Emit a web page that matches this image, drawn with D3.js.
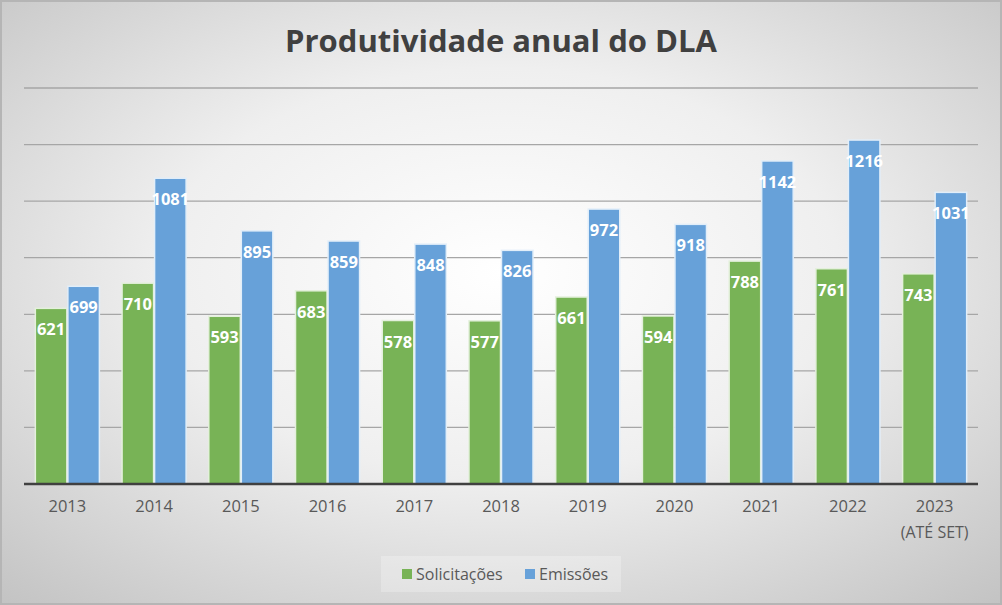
<!DOCTYPE html>
<html><head><meta charset="utf-8">
<script src="https://cdnjs.cloudflare.com/ajax/libs/d3/7.8.5/d3.min.js"></script>
<style>html,body{margin:0;padding:0;background:#fff;}svg{display:block;}</style>
</head><body>
<script>
const categories = ["2013","2014","2015","2016","2017","2018","2019","2020","2021","2022","2023"];
const catSub = ["","","","","","","","","","","(ATÉ SET)"];
const solicitacoes = [621,710,593,683,578,577,661,594,788,761,743];
const emissoes = [699,1081,895,859,848,826,972,918,1142,1216,1031];
const seriesNames = ["Solicitações","Emissões"];
const seriesColors = ["#78b356","#67a1d9"];
const seriesStroke = ["#e4f0dc","#e2eef9"];
const yTicks = [0,200,400,600,800,1000,1200,1400];

const W = 1002, H = 605;
const svg = d3.select("body").append("svg").attr("width", W).attr("height", H);
const defs = svg.append("defs");
const grad = defs.append("radialGradient").attr("id","bg").attr("cx","50%").attr("cy","45%").attr("r","75%");
grad.append("stop").attr("offset","0%").attr("stop-color","#ffffff");
grad.append("stop").attr("offset","45%").attr("stop-color","#efefef");
grad.append("stop").attr("offset","100%").attr("stop-color","#c2c2c2");
svg.append("rect").attr("x",0).attr("y",0).attr("width",W).attr("height",H).attr("fill","url(#bg)");
svg.append("rect").attr("x",1).attr("y",1).attr("width",W-2).attr("height",H-2).attr("fill","none").attr("stroke","#b5b5b5").attr("stroke-width",2);

const margin = {left:24, right:24, top:88, bottom:121};
const x0 = d3.scaleBand().domain(categories).range([margin.left, W-margin.right]).paddingInner(0.25).paddingOuter(0.125);
const x1 = d3.scaleBand().domain([0,1]).range([0, x0.bandwidth()]);
const y = d3.scaleLinear().domain([0,1400]).range([H-margin.bottom, margin.top]);

// gridlines
svg.append("g").selectAll("line").data(yTicks.slice(1)).join("line")
  .attr("x1", margin.left).attr("x2", W-margin.right)
  .attr("y1", d=>y(d)).attr("y2", d=>y(d))
  .attr("stroke","#a6a6a6").attr("stroke-width",1.3);

// title
svg.append("text").attr("x", 501).attr("y", 52).attr("text-anchor","middle")
  .attr("font-family","Open Sans, sans-serif").attr("font-weight","bold").attr("font-size",30)
  .attr("fill","#404040").attr("textLength",432).attr("lengthAdjust","spacingAndGlyphs")
  .text("Produtividade anual do DLA");

const data = categories.map((c,i)=>({c, v:[solicitacoes[i], emissoes[i]]}));
const groups = svg.append("g").selectAll("g").data(data).join("g")
  .attr("transform", d=>`translate(${x0(d.c)},0)`);
groups.selectAll("rect").data(d=>d.v.map((v,k)=>({v,k}))).join("rect")
  .attr("x", d=>x1(d.k)+0.5).attr("width", x1.bandwidth()-1)
  .attr("y", d=>y(d.v)).attr("height", d=>y(0)-y(d.v))
  .attr("fill", d=>seriesColors[d.k]).attr("stroke", d=>seriesStroke[d.k]).attr("stroke-width",1.5);
groups.selectAll("text").data(d=>d.v.map((v,k)=>({v,k}))).join("text")
  .attr("x", d=>x1(d.k)+x1.bandwidth()/2).attr("y", d=>y(d.v)+27)
  .attr("text-anchor","middle").attr("font-family","Open Sans, sans-serif").attr("font-weight","bold")
  .attr("font-size",16.5).attr("fill","#ffffff").text(d=>d.v);

// baseline
svg.append("line").attr("x1", margin.left).attr("x2", W-margin.right)
  .attr("y1", y(0)).attr("y2", y(0)).attr("stroke","#404040").attr("stroke-width",2.5);

// x axis
const xAxis = svg.append("g").attr("transform",`translate(0,${y(0)})`)
  .call(d3.axisBottom(x0).tickSize(0).tickPadding(16));
xAxis.select(".domain").remove();
xAxis.selectAll("text").attr("font-family","Open Sans, sans-serif").attr("font-size",16.5).attr("fill","#595959");
categories.forEach((c,i)=>{
  if(catSub[i]) svg.append("text").attr("x", x0(c)+x0.bandwidth()/2).attr("y", y(0)+54)
    .attr("text-anchor","middle").attr("font-family","Open Sans, sans-serif").attr("font-size",16)
    .attr("fill","#595959").text(catSub[i]);
});

// legend
const lg = svg.append("g");
lg.append("rect").attr("x",381).attr("y",556).attr("width",240).attr("height",36).attr("fill","#ffffff").attr("opacity",0.25);
const items = [{x:402},{x:525}];
seriesNames.forEach((n,i)=>{
  lg.append("rect").attr("x",items[i].x).attr("y",569).attr("width",10).attr("height",10).attr("fill",seriesColors[i]);
  lg.append("text").attr("x",items[i].x+14).attr("y",580).attr("font-family","Open Sans, sans-serif")
    .attr("font-size",16).attr("fill","#595959").text(n);
});
</script>
</body></html>
